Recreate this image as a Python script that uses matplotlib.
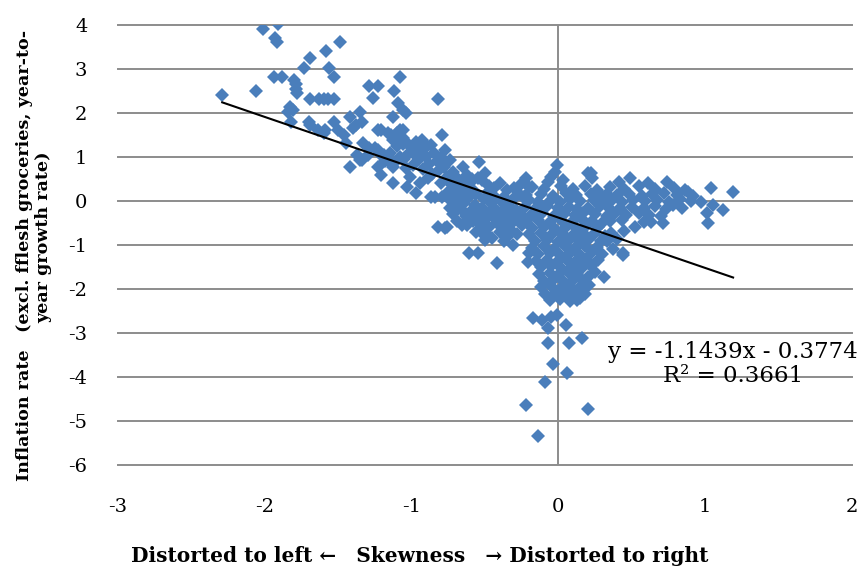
import matplotlib
matplotlib.use("Agg")
import matplotlib.pyplot as plt

plt.rcParams["font.family"] = ["DejaVu Serif", "Noto Sans CJK JP"]
plt.rcParams["axes.unicode_minus"] = False

# Skewness of the price-change distribution vs. core inflation (observations)
upper_left_x = [-2.29, -2.06, -2.01, -1.91, -1.93, -1.92, -1.94, -1.88, -1.80, -1.79,
                -1.79, -1.78, -1.83, -1.81, -1.84, -1.82, -1.69, -1.73, -1.58, -1.49,
                -1.56, -1.53, -1.69, -1.63, -1.60, -1.57, -1.53, -1.70, -1.69, -1.64,
                -1.59, -1.60, -1.53, -1.50, -1.46, -1.45, -1.42, -1.35, -1.34, -1.38,
                -1.40, -1.29, -1.23, -1.26, -1.08, -1.12, -1.09, -1.06, -1.04, -1.13,
                -1.21, -1.14, -1.10, -1.06, -0.82]
upper_left_y = [2.41, 2.51, 3.91, 4.02, 3.70, 3.62, 2.82, 2.82, 2.75, 2.65,
                2.55, 2.45, 2.14, 2.07, 2.03, 1.80, 3.25, 3.02, 3.42, 3.61,
                3.03, 2.82, 2.32, 2.32, 2.32, 2.32, 2.32, 1.80, 1.73, 1.61,
                1.61, 1.55, 1.80, 1.61, 1.50, 1.32, 1.91, 2.02, 1.80, 1.73,
                1.66, 2.61, 2.61, 2.34, 2.82, 2.50, 2.23, 2.07, 2.00, 1.91,
                1.61, 1.50, 1.55, 1.61, 2.32]

diagonal_x = [-1.42, -1.35, -1.30, -1.25, -1.21, -1.23, -1.33, -1.29, -1.37, -1.34,
              -1.23, -1.19, -1.16, -1.13, -1.11, -1.08, -1.04, -1.01, -1.21, -1.13,
              -1.03, -0.97, -0.94, -0.89, -0.87, -0.84, -0.80, -0.76, -0.72, -0.65,
              -0.65, -0.69, -0.54, -0.50, -0.55, -0.52, -0.40, -0.37, -1.23, -1.16,
              -1.13, -1.08, -1.06, -1.03, -0.97, -0.93, -0.96, -0.92, -0.87, -0.85,
              -0.79, -0.77, -0.80, -0.74, -1.00, -0.98, -0.95, -0.90, -0.88, -0.92,
              -0.99, -1.05, -1.02, -0.83, -0.78, -0.86, -0.81, -0.75, -0.70, -0.62,
              -0.60, -0.58, -0.67, -0.72, -1.18, -1.10, -1.15, -0.94, -1.06, -0.91]
diagonal_y = [0.77, 0.93, 1.05, 1.20, 1.05, 0.77, 1.32, 1.20, 1.05, 0.93,
              1.16, 1.05, 0.93, 0.77, 0.89, 1.00, 0.75, 0.55, 0.59, 0.41,
              0.32, 0.18, 0.41, 0.52, 0.09, 0.09, 0.41, 0.55, 0.66, 0.77,
              0.48, 0.32, 0.89, 0.64, 0.52, 0.48, 0.41, 0.09, 1.61, 1.55,
              1.39, 1.61, 1.43, 1.32, 1.34, 1.39, 1.20, 1.16, 1.27, 1.09,
              1.50, 1.16, 1.00, 0.93, 1.20, 1.05, 0.95, 1.00, 0.85, 0.72,
              0.82, 0.95, 1.10, 0.90, 0.78, 0.62, 0.70, 0.45, 0.55, 0.60,
              0.40, 0.25, 0.20, 0.10, 0.90, 1.25, 1.10, 1.10, 1.30, 1.30]

middle_x = [-0.77, -0.61, -0.55, -0.42, -0.31, -0.50, -0.52, -0.82, -0.76, -0.75,
            -0.73, -0.70, -0.68, -0.66, -0.64, -0.63, -0.61, -0.60, -0.58, -0.57,
            -0.56, -0.55, -0.53, -0.52, -0.51, -0.50, -0.49, -0.48, -0.47, -0.46,
            -0.45, -0.44, -0.43, -0.42, -0.41, -0.40, -0.39, -0.38, -0.37, -0.36,
            -0.35, -0.34, -0.33, -0.32, -0.31, -0.30, -0.29, -0.28, -0.27, -0.26,
            -0.25, -0.72, -0.69, -0.66, -0.74, -0.79, -0.71, -0.64, -0.59, -0.47,
            -0.44, -0.62, -0.56, -0.48, -0.45, -0.37, -0.34, -0.22, -0.26, -0.20,
            -0.30, -0.24]
middle_y = [-0.61, -1.18, -1.18, -1.41, -1.00, -0.89, -0.73, -0.59, -0.59, 0.20,
            0.00, -0.10, 0.05, -0.20, -0.05, -0.35, 0.10, -0.25, -0.45, -0.10,
            0.15, -0.30, -0.55, -0.15, 0.05, -0.40, -0.25, 0.20, -0.60, -0.05,
            -0.35, -0.15, 0.10, -0.50, -0.25, -0.70, 0.00, -0.40, -0.20, -0.55,
            0.25, -0.10, -0.35, -0.65, 0.05, -0.45, -0.20, -0.75, 0.15, -0.30,
            -0.55, -0.30, -0.45, -0.55, -0.15, 0.10, 0.30, 0.25, 0.50, 0.35,
            0.30, -0.55, -0.70, -0.80, -0.85, -0.90, -0.80, 0.52, 0.36, 0.32,
            0.30, 0.10]

stem_x = [-0.01, -0.02, -0.05, -0.07, 0.03, 0.20, 0.23, -0.20, -0.21, 0.44,
          0.31, 0.20, 0.15, -0.17, -0.11, -0.07, -0.05, -0.01, 0.05, -0.07,
          0.07, 0.16, -0.04, 0.06, -0.09, -0.22, 0.20, -0.14,
          -0.18, -0.10, 0.02, 0.10, 0.18, 0.26,
          -0.22, -0.12, -0.04, 0.05, 0.12, 0.22, 0.30,
          -0.20, -0.14, -0.06, 0.01, 0.08, 0.15, 0.24, 0.32,
          -0.23, -0.15, -0.08, 0.00, 0.07, 0.13, 0.20, 0.28,
          -0.19, -0.11, -0.03, 0.04, 0.11, 0.17, 0.25, 0.33,
          -0.22, -0.14, -0.06, 0.02, 0.09, 0.16, 0.23, 0.30,
          -0.18, -0.10, -0.02, 0.05, 0.12, 0.19, 0.27,
          -0.20, -0.12, -0.05, 0.03, 0.10, 0.17, 0.24, 0.32,
          -0.16, -0.08, 0.00, 0.07, 0.14, 0.21, 0.29,
          -0.18, -0.10, -0.03, 0.05, 0.11, 0.18, 0.26, 0.37,
          -0.14, -0.06, 0.01, 0.08, 0.15, 0.23, 0.30,
          -0.15, -0.08, -0.01, 0.06, 0.12, 0.19, 0.27,
          -0.12, -0.05, 0.02, 0.09, 0.16, 0.22,
          -0.13, -0.06, 0.00, 0.07, 0.13, 0.25,
          -0.10, -0.03, 0.04, 0.10, 0.17,
          -0.12, -0.05, 0.02, 0.08, 0.14, 0.21,
          -0.09, -0.02, 0.05, 0.11, 0.18,
          -0.06, 0.01, 0.08, 0.13]
stem_y = [0.82, 0.66, 0.55, 0.43, 0.48, 0.64, 0.52, -1.18, -1.39, -1.18,
          -1.73, -1.73, -2.20, -2.66, -2.70, -2.89, -2.64, -2.59, -2.82, -3.23,
          -3.23, -3.11, -3.70, -3.91, -4.11, -4.64, -4.73, -5.34,
          0.31, 0.27, 0.34, 0.28, 0.33, 0.26,
          0.14, 0.17, 0.12, 0.18, 0.13, 0.16, 0.11,
          0.02, -0.03, 0.01, -0.02, 0.04, -0.01, 0.03, -0.04,
          -0.14, -0.17, -0.12, -0.16, -0.13, -0.18, -0.15, -0.11,
          -0.31, -0.28, -0.33, -0.29, -0.32, -0.27, -0.30, -0.34,
          -0.46, -0.43, -0.48, -0.44, -0.47, -0.42, -0.45, -0.49,
          -0.61, -0.58, -0.63, -0.59, -0.62, -0.57, -0.60,
          -0.76, -0.73, -0.78, -0.74, -0.77, -0.72, -0.75, -0.79,
          -0.91, -0.88, -0.93, -0.89, -0.92, -0.87, -0.90,
          -1.06, -1.03, -1.08, -1.04, -1.07, -1.02, -1.05, -1.09,
          -1.21, -1.18, -1.23, -1.19, -1.22, -1.17, -1.20,
          -1.36, -1.33, -1.38, -1.34, -1.37, -1.32, -1.35,
          -1.51, -1.48, -1.53, -1.49, -1.52, -1.47,
          -1.66, -1.63, -1.68, -1.64, -1.67, -1.62,
          -1.81, -1.78, -1.83, -1.79, -1.82,
          -1.96, -1.93, -1.98, -1.94, -1.97, -1.92,
          -2.11, -2.08, -2.13, -2.09, -2.12,
          -2.26, -2.23, -2.28, -2.24]

right_x = [0.22, 0.49, 0.41, 0.61, 0.74, 1.04, 1.19, 0.97, 1.05, 1.12,
           1.01, 1.02, 0.88, 0.84, 0.78, 0.71, 0.63, 0.52, 0.44,
           0.35, 0.45, 0.55, 0.66, 0.79, 0.86,
           0.33, 0.40, 0.48, 0.57, 0.64, 0.72, 0.81, 0.92,
           0.36, 0.43, 0.51, 0.59, 0.67, 0.75, 0.83, 0.90,
           0.34, 0.42, 0.50, 0.58, 0.66, 0.73,
           0.38, 0.46, 0.55, 0.62, 0.70,
           0.35, 0.43, 0.58,
           0.36, 0.45,
           0.33, 0.40]
right_y = [0.64, 0.52, 0.43, 0.41, 0.43, 0.30, 0.20, -0.02, -0.09, -0.20,
           -0.27, -0.50, 0.20, -0.16, -0.09, -0.50, -0.48, -0.59, -1.23,
           0.31, 0.27, 0.33, 0.28, 0.30, 0.25,
           0.16, 0.13, 0.17, 0.12, 0.15, 0.18, 0.14, 0.11,
           0.01, -0.02, 0.03, -0.01, 0.02, -0.03, 0.04, 0.00,
           -0.14, -0.17, -0.13, -0.16, -0.12, -0.18,
           -0.29, -0.32, -0.28, -0.31, -0.33,
           -0.46, -0.43, -0.47,
           -0.72, -0.68,
           -0.91, -0.87]

skewness = upper_left_x + diagonal_x + middle_x + stem_x + right_x
inflation = upper_left_y + diagonal_y + middle_y + stem_y + right_y

# Linear trend line
slope = -1.1439
intercept = -0.3774
r_squared = 0.3661

x_ticks = [-3, -2, -1, 0, 1, 2]
y_ticks = [-6, -5, -4, -3, -2, -1, 0, 1, 2, 3, 4]

fig = plt.figure(figsize=(8.63, 5.69), dpi=100)
ax = fig.add_axes([118 / 863, 1 - 465 / 569, (852 - 118) / 863, (465 - 25) / 569])
ax.set_xlim(-3, 2)
ax.set_ylim(-6, 4)

grid_color = "#8c8c8c"
for yv in y_ticks:
    ax.axhline(yv, color=grid_color, lw=1.4, zorder=1, clip_on=False)
ax.axvline(0, color=grid_color, lw=1.4, zorder=1)

ax.plot(skewness, inflation, linestyle="none", marker="D", markersize=7.5,
        color="#4a7ebb", markeredgewidth=0, zorder=3)

x_lo, x_hi = min(skewness), max(skewness)
ax.plot([x_lo, x_hi], [slope * x_lo + intercept, slope * x_hi + intercept],
        color="black", lw=1.5, zorder=4)

ax.text(1.19, -3.70,
        "y = {:.4f}x - {:.4f}\nR² = {:.4f}".format(slope, abs(intercept), r_squared),
        ha="center", va="center", fontsize=16.5, linespacing=1.15, zorder=5)

for side in ax.spines.values():
    side.set_visible(False)
ax.set_xticks(x_ticks)
ax.set_yticks(y_ticks)
ax.set_xticklabels([str(v) for v in x_ticks])
ax.set_yticklabels([str(v) for v in y_ticks])
ax.tick_params(length=0, labelsize=14)
ax.tick_params(axis="x", pad=24)
ax.tick_params(axis="y", pad=22)

fig.text(25 / 863, 1 - 255 / 569,
         "Inflation rate\u3000(excl. fflesh groceries, year-to-",
         rotation=90, ha="center", va="center", fontsize=12.6, fontweight="bold")
fig.text(44 / 863, 1 - 237 / 569, "year growth rate)",
         rotation=90, ha="center", va="center", fontsize=12.6, fontweight="bold")
fig.text(420 / 863, 1 - 556 / 569,
         "Distorted to left \u2190\u3000Skewness\u3000\u2192 Distorted to right",
         ha="center", va="center", fontsize=14.5, fontweight="bold")

fig.savefig("out.png", dpi=100)
